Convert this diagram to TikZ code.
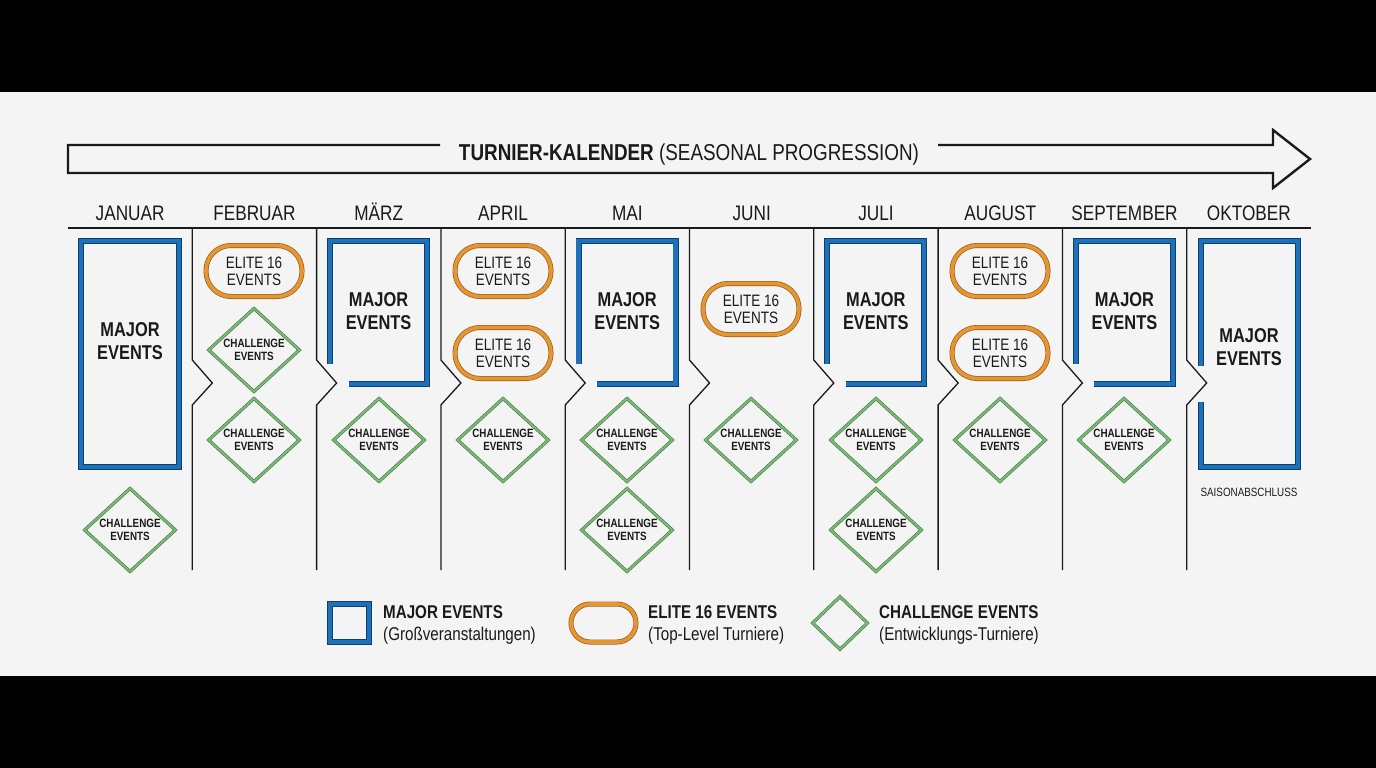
\documentclass[tikz,border=0pt]{standalone}
\usepackage{fontspec}
\setmainfont{Liberation Sans}[FakeStretch=0.82]
\usepackage{tikz}
\usetikzlibrary{positioning,shapes.geometric}
\definecolor{pagegray}{HTML}{F4F4F4}
\definecolor{inkblack}{HTML}{1A1A1A}
\definecolor{majorblue}{HTML}{1E70BA}
\definecolor{majordark}{HTML}{0E3E6E}
\definecolor{eliteorange}{HTML}{E39632}
\definecolor{elitedark}{HTML}{9A5C1C}
\definecolor{challengegreen}{HTML}{7DB77A}
\definecolor{challengedark}{HTML}{3F7D40}
\tikzset{
  majorline/.style={draw=majordark,line width=.8pt,double=majorblue,double distance=4.4pt},
  majortext/.style={align=center,text=inkblack,font=\bfseries\fontsize{20}{23}\selectfont},
  elite/.style={draw=elitedark,line width=.7pt,double=eliteorange,double distance=3.6pt,rounded corners=25pt,minimum width=96pt,minimum height=51pt,inner sep=0pt,align=center,text=inkblack,font=\fontsize{16.5}{17}\selectfont},
  challenge/.style={diamond,draw=challengedark,line width=.6pt,double=challengegreen,double distance=2pt,minimum width=91pt,minimum height=81pt,inner sep=0pt,align=center,text=inkblack,font=\bfseries\fontsize{12}{13.5}\selectfont},
  month/.style={anchor=base,text=inkblack,font=\fontsize{21}{21}\selectfont},
  monthsep/.style={draw=inkblack,line width=1.3pt},
  legendtext/.style={anchor=west,align=left,inner sep=0pt,text=inkblack,font=\fontsize{18.5}{21.5}\selectfont},
}

\begin{document}
\begin{tikzpicture}[x=1pt,y=-1pt]
  \useasboundingbox (0,0) rectangle (1376,768);
  \fill[black] (0,0) rectangle (1376,768);
  \fill[pagegray] (0,92) rectangle (1376,676);
  % season arrow with title
  \draw[inkblack,line width=2.4pt,line join=miter]
    (440,145) -- (68,145) -- (68,173) -- (1273,173) -- (1273,188)
    -- (1310,159) -- (1273,130) -- (1273,145) -- (938,145);
  \node[anchor=base,text=inkblack,font=\fontsize{23}{23}\selectfont] (title) at (689,160.5)
    {\textbf{TURNIER-KALENDER} (SEASONAL PROGRESSION)};
  % months and column separators
  \foreach \mm [count=\ii] in {JANUAR,FEBRUAR,MÄRZ,APRIL,MAI,JUNI,JULI,AUGUST,SEPTEMBER,OKTOBER}{
    \node[month] (m\ii) at ({68+124.3*(\ii-.5)},220.5) {\mm};
  }
  \draw[inkblack,line width=1.3pt] (68,228) -- (1311,228);
  \foreach \ii in {1,...,9}{
    \pgfmathsetmacro{\xx}{68+124.3*\ii}
    \draw[monthsep] (\xx,228) -- (\xx,360) -- (\xx+20,383) -- (\xx,405) -- (\xx,570);
  }
  % major events
  \draw[majorline] (81,241) rectangle (179,467);
  \node[majortext] (major1) at (130,341) {MAJOR\\EVENTS};
  \foreach \ii in {3,5,7,9}{
    \pgfmathsetmacro{\xx}{68+124.3*(\ii-1)}
    \draw[majorline] (\xx+32,384) -- (\xx+110.4,384) -- (\xx+110.4,241) -- (\xx+13.4,241) -- (\xx+13.4,364);
    \node[majortext] (major\ii) at (\xx+62,311) {MAJOR\\EVENTS};
  }
  \draw[majorline] (1201,366) -- (1201,241) -- (1298,241) -- (1298,467) -- (1201,467) -- (1201,402);
  \node[majortext] (major10) at (1249,347.5) {MAJOR\\EVENTS};
  \node[text=inkblack,font=\fontsize{12}{12}\selectfont] (closing) at (1249,492) {SAISONABSCHLUSS};
  % elite 16 events
  \foreach \xx/\yy [count=\ii] in {254/271,503/271,503/353,751/309,1000/271,1000/353}{
    \node[elite] (elite\ii) at (\xx,\yy) {ELITE 16\\EVENTS};
  }
  % challenge events
  \foreach \xx/\yy [count=\ii] in {130/530,254/350,254/440,379/440,503/440,627/440,627/530,751/440,876/440,876/530,1000/440,1124/440}{
    \node[challenge] (chal\ii) at (\xx,\yy) {CHALLENGE\\EVENTS};
  }
  % legend
  \draw[majorline] (330,604) rectangle (369,642);
  \node[legendtext] (legmajor) at (383,625) {\textbf{MAJOR EVENTS}\\(Großveranstaltungen)};
  \node[elite,minimum width=65pt,minimum height=38pt,rounded corners=19pt] (legelite) at (603.5,623) {};
  \node[legendtext] (legelitetext) at (648,625) {\textbf{ELITE 16 EVENTS}\\(Top-Level Turniere)};
  \node[challenge,minimum width=55pt,minimum height=53pt] (legchal) at (840,623) {};
  \node[legendtext] (legchaltext) at (879,625) {\textbf{CHALLENGE EVENTS}\\(Entwicklungs-Turniere)};
\end{tikzpicture}
\end{document}
